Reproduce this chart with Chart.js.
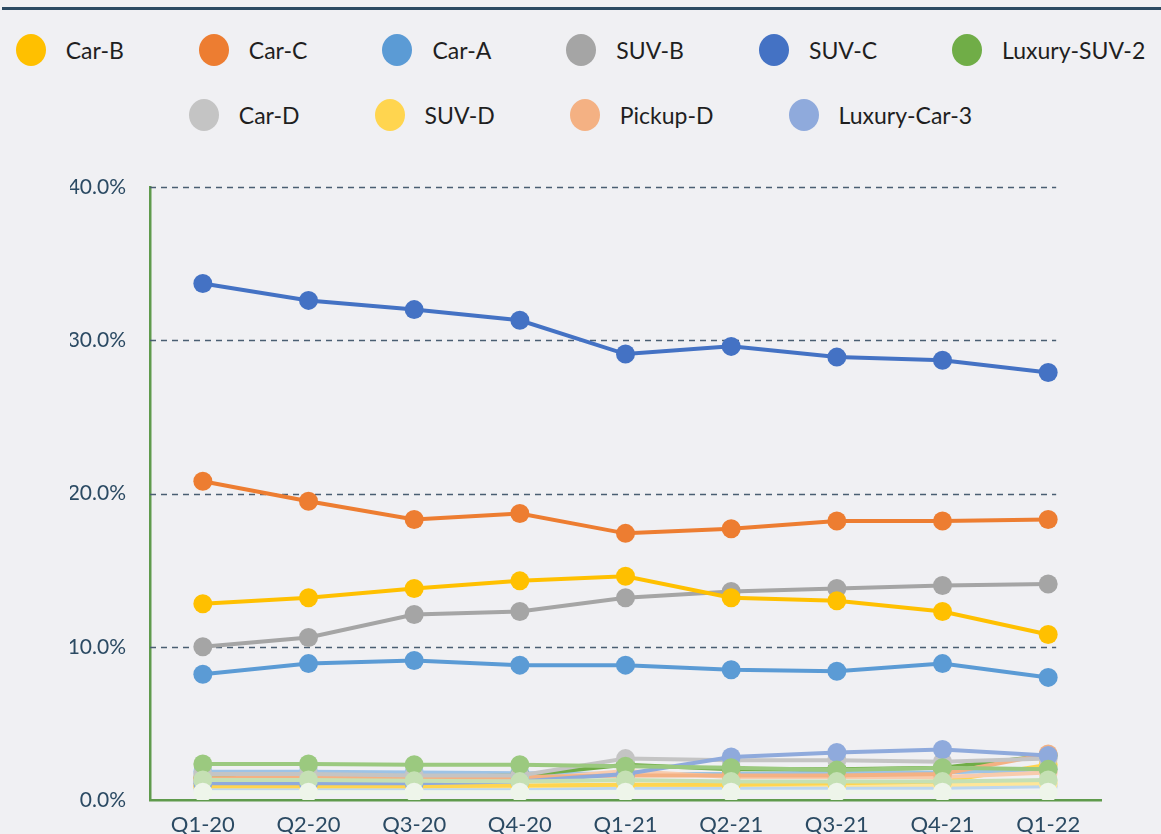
<!DOCTYPE html>
<html>
<head>
<meta charset="utf-8">
<script src="https://cdn.jsdelivr.net/npm/chart.js@4/dist/chart.umd.min.js"></script>
<style>
    html, body { margin: 0; padding: 0; background: #f0f0f3; }
    #wrap { position: relative; width: 1161px; height: 834px; overflow: hidden; }
    #topRule { position: absolute; top: 7px; left: 2px; right: 0; height: 3px; background: #2c4a62; }
    #legend { position: absolute; top: 31px; left: 0; width: 1161px; font-family: Lato, sans-serif; font-size: 23px; color: #1f1f1f; }
    #legend .row { display: flex; justify-content: center; gap: 75px; height: 38px; align-items: center; }
    #legend .row + .row { margin-top: 27px; }
    #legend .item { display: flex; align-items: center; white-space: nowrap; }
    #legend .dot { width: 30px; height: 32px; border-radius: 50%; margin-right: 20px; }
    #chartBox { position: absolute; top: 0; left: 0; width: 1161px; height: 834px; }
</style>
</head>
<body>
<div id="wrap">
    <div id="topRule"></div>
    <div id="legend"></div>
    <div id="chartBox"><canvas id="shareChart"></canvas></div>
</div>
<script>
// quarters on the x axis
const quarters = ['Q1-20', 'Q2-20', 'Q3-20', 'Q4-20', 'Q1-21', 'Q2-21', 'Q3-21', 'Q4-21', 'Q1-22'];

// market share, % per quarter
const suvC     = [33.7, 32.6, 32.0, 31.3, 29.1, 29.6, 28.9, 28.7, 27.9];
const carC     = [20.8, 19.5, 18.3, 18.7, 17.4, 17.7, 18.2, 18.2, 18.3];
const carB     = [12.8, 13.2, 13.8, 14.3, 14.6, 13.2, 13.0, 12.3, 10.8];
const suvB     = [10.0, 10.6, 12.1, 12.3, 13.2, 13.6, 13.8, 14.0, 14.1];
const carA     = [8.2, 8.9, 9.1, 8.8, 8.8, 8.5, 8.4, 8.9, 8.0];
const luxSuv2  = [1.4, 1.5, 1.5, 1.6, 2.3, 2.0, 2.0, 2.1, 2.9];
const carD     = [1.7, 1.7, 1.6, 1.6, 2.7, 2.6, 2.6, 2.5, 2.7];
const suvD     = [0.9, 0.9, 0.9, 0.95, 1.0, 1.0, 1.1, 1.2, 2.3];
const pickupD  = [1.4, 1.5, 1.4, 1.5, 1.6, 1.6, 1.6, 1.7, 3.0];
const luxCar3  = [1.1, 1.1, 1.1, 1.2, 1.7, 2.8, 3.1, 3.3, 2.9];

// smaller models that are plotted but not listed in the legend
const otherBlue   = [1.85, 1.85, 1.8, 1.75, 1.7, 1.7, 1.8, 1.8, 2.0];
const otherGreen  = [2.35, 2.35, 2.3, 2.3, 2.2, 2.1, 1.95, 2.1, 2.0];
const otherPeach  = [1.3, 1.3, 1.3, 1.3, 1.9, 1.5, 1.5, 1.5, 1.8];
const otherSage   = [1.3, 1.3, 1.25, 1.2, 1.3, 1.2, 1.2, 1.2, 1.3];
const otherCream  = [0.9, 0.9, 0.9, 0.9, 1.0, 1.0, 1.0, 1.0, 1.1];
const otherSky    = [0.75, 0.75, 0.75, 0.75, 0.8, 0.8, 0.8, 0.8, 0.9];
const otherMint   = [0.5, 0.5, 0.5, 0.5, 0.5, 0.5, 0.5, 0.5, 0.5];

const yTicks = [0, 10, 20, 30, 40];

const legendRows = [
    ['Car-B', 'Car-C', 'Car-A', 'SUV-B', 'SUV-C', 'Luxury-SUV-2'],
    ['Car-D', 'SUV-D', 'Pickup-D', 'Luxury-Car-3']
];

function series(label, data, color) {
    return {
        label: label,
        data: data,
        borderColor: color,
        backgroundColor: color,
        pointBackgroundColor: color,
        pointBorderWidth: 0,
        pointRadius: 9.5,
        pointHoverRadius: 11,
        borderWidth: 4,
        tension: 0
    };
}

// first dataset is drawn on top
const datasets = [
    series('SUV-C', suvC, '#4472c4'),
    series('Car-C', carC, '#ed7d31'),
    series('Car-B', carB, '#ffc000'),
    series('SUV-B', suvB, '#a5a5a5'),
    series('Car-A', carA, '#5b9bd5'),
    series('', otherMint, '#eef5ea'),
    series('', otherSage, '#c5e0b4'),
    series('', otherGreen, '#9bc97f'),
    series('Luxury-Car-3', luxCar3, '#8faadc'),
    series('Car-D', carD, '#c4c4c4'),
    series('Pickup-D', pickupD, '#f4b183'),
    series('', otherPeach, '#f8cbad'),
    series('Luxury-SUV-2', luxSuv2, '#70ad47'),
    series('', otherBlue, '#9dc3e6'),
    series('SUV-D', suvD, '#ffd54f'),
    series('', otherCream, '#ffe699'),
    series('', otherSky, '#bdd7ee')
];

// dashed value lines that stop just past the last quarter, like the original
const shortGrid = {
    id: 'shortGrid',
    beforeDatasetsDraw: function(chart) {
        const y = chart.scales.y, x = chart.scales.x;
        const right = x.getPixelForValue(quarters.length - 1) + 8;
        const c = chart.ctx;
        c.save();
        c.strokeStyle = '#4a5e72';
        c.lineWidth = 1.5;
        c.setLineDash([6, 5]);
        yTicks.forEach(function(v) {
            if (v === 0) return;
            const py = Math.round(y.getPixelForValue(v)) + 0.5;
            c.beginPath();
            c.moveTo(chart.chartArea.left, py);
            c.lineTo(right, py);
            c.stroke();
        });
        c.restore();
    }
};

const ctx = document.getElementById('shareChart').getContext('2d');
const chart = new Chart(ctx, {
    type: 'line',
    data: { labels: quarters, datasets: datasets },
    plugins: [shortGrid],
    options: {
        responsive: true,
        maintainAspectRatio: false,
        animation: false,
        layout: { padding: { top: 187, left: 70, right: 60, bottom: 0 } },
        plugins: {
            legend: { display: false },
            tooltip: {
                filter: function(item) { return item.dataset.label !== ''; },
                callbacks: {
                    label: function(c) { return c.dataset.label + ': ' + c.parsed.y.toFixed(1) + '%'; }
                }
            }
        },
        scales: {
            x: {
                offset: true,
                grid: { display: false },
                border: { color: '#5f9a4c', width: 2.5 },
                afterFit: function(scale) { scale.height = 34; },
                ticks: { color: '#2b4a63', padding: 4, font: { family: 'Lato', size: 22 } }
            },
            y: {
                min: 0,
                max: 40,
                afterBuildTicks: function(scale) {
                    scale.ticks = yTicks.map(function(v) { return { value: v }; });
                },
                afterFit: function(scale) { scale.width = 80; },
                grid: { display: false },
                border: { color: '#5f9a4c', width: 2.5 },
                ticks: {
                    color: '#2b4a63',
                    padding: 16,
                    font: { family: 'Lato', size: 21 },
                    callback: function(v) { return v.toFixed(1) + '%'; }
                }
            }
        }
    }
});

// html legend, only the named models
const colorOf = {};
chart.data.datasets.forEach(function(ds) { if (ds.label) colorOf[ds.label] = ds.borderColor; });
const legendEl = document.getElementById('legend');
legendRows.forEach(function(names) {
    const row = document.createElement('div');
    row.className = 'row';
    names.forEach(function(name) {
        const item = document.createElement('div');
        item.className = 'item';
        const dot = document.createElement('span');
        dot.className = 'dot';
        dot.style.background = colorOf[name];
        const txt = document.createElement('span');
        txt.textContent = name;
        item.appendChild(dot);
        item.appendChild(txt);
        row.appendChild(item);
    });
    legendEl.appendChild(row);
});
</script>
</body>
</html>
